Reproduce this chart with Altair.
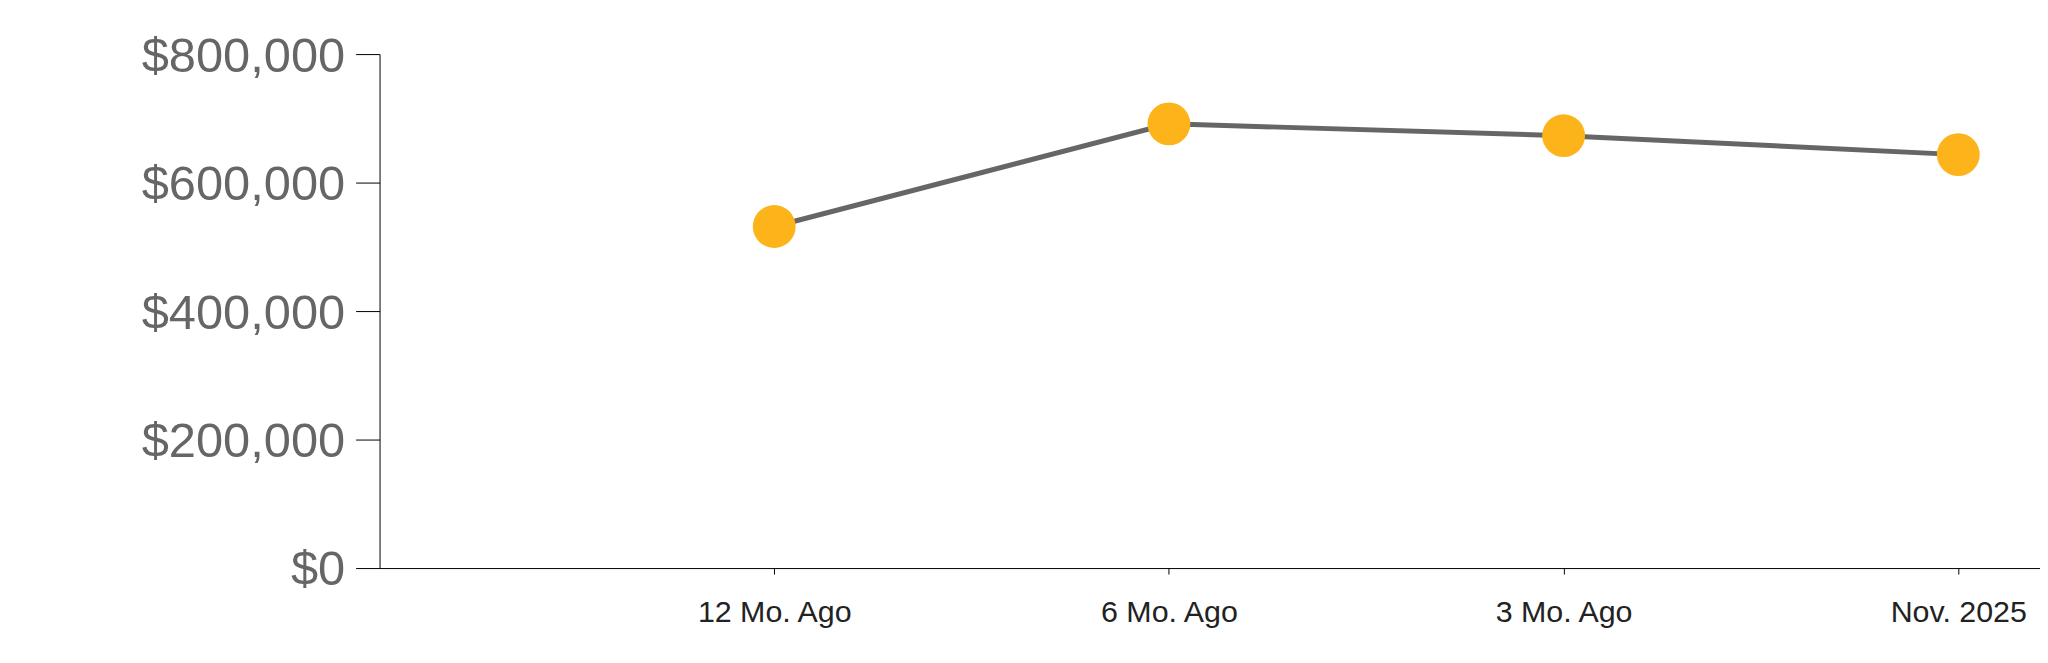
import json
import altair as alt
import pandas as pd

periods = ["12 Mo. Ago", "6 Mo. Ago", "3 Mo. Ago", "Nov. 2025"]
positions = [1, 2, 3, 4]
values = [531600, 691400, 673000, 643500]
y_ticks = [0, 200000, 400000, 600000, 800000]

df = pd.DataFrame({"pos": positions, "period": periods, "value": values})

label_expr = json.dumps(periods) + "[datum.value - 1]"

x_enc = alt.X(
    "pos:Q",
    scale=alt.Scale(domain=[0, 4.207], nice=False, zero=False),
    axis=alt.Axis(
        values=positions,
        labelExpr=label_expr,
        title=None,
        grid=False,
        domainColor="#000000",
        domainWidth=1,
        tickColor="#000000",
        tickSize=6,
        labelPadding=24,
        labelFont="Liberation Sans",
        labelFontSize=30.5,
        labelColor="#222222",
        labelFlush=False,
        labelOverlap=False,
        labelLimit=0,
    ),
)
y_enc = alt.Y(
    "value:Q",
    scale=alt.Scale(domain=[0, 800000], nice=False),
    axis=alt.Axis(
        values=y_ticks,
        format="$,.0f",
        title=None,
        grid=False,
        domainColor="#000000",
        domainWidth=1,
        tickColor="#000000",
        tickSize=24,
        labelPadding=11,
        labelFont="Liberation Sans",
        labelFontSize=49,
        labelColor="#666666",
        labelFlush=False,
        labelOverlap=False,
        labelLimit=0,
        labelOffset=2,
    ),
)

base = alt.Chart(df).encode(x=x_enc, y=y_enc)
line = base.mark_line(color="#666666", strokeWidth=5)
pts = base.mark_circle(color="#FCB41A", opacity=1, size=1850)

chart = (
    alt.layer(line, pts)
    .properties(
        width=1667,
        height=516,
        autosize=alt.AutoSizeParams(type="none"),
        padding={"left": 373, "top": 45, "right": 0, "bottom": 80},
        view=alt.ViewBackground(strokeWidth=0, strokeOpacity=0),
    )
    .configure_view(strokeWidth=0, strokeOpacity=0)
    .configure_axis(grid=False)
    .configure(background="white")
)

chart.save("out.html", embed_options={"renderer": "svg", "actions": False})
